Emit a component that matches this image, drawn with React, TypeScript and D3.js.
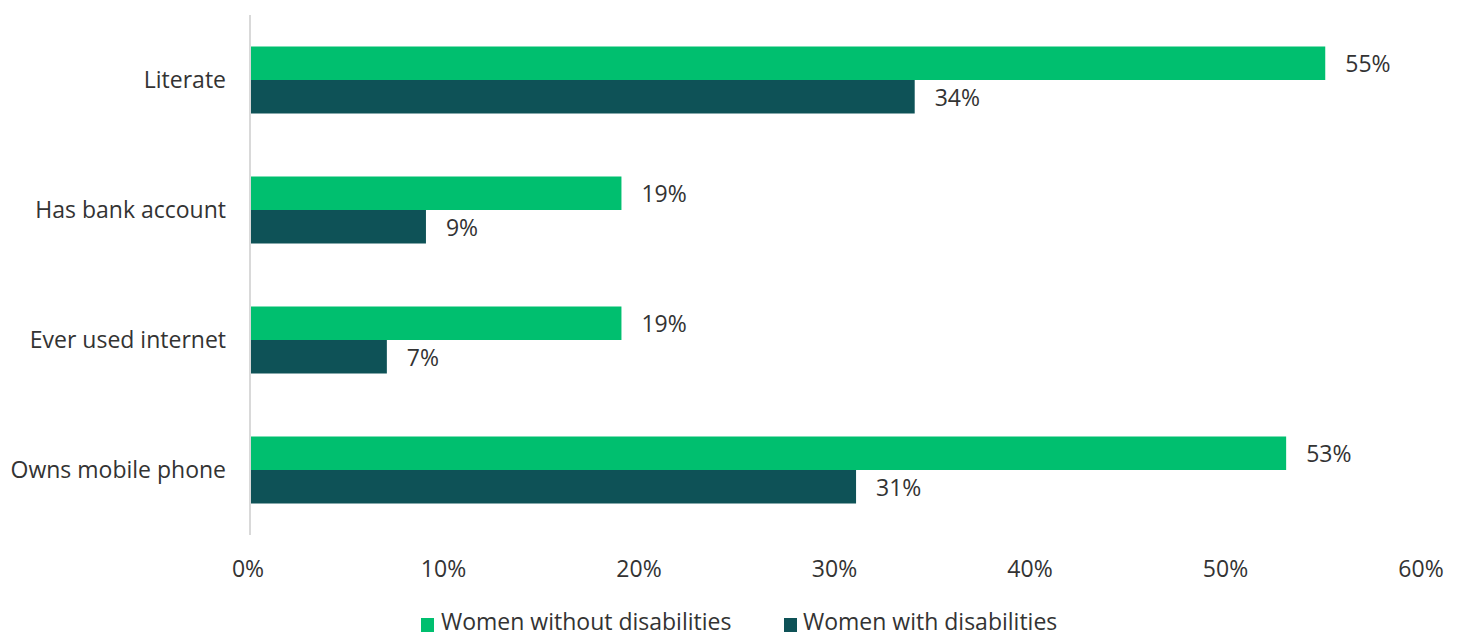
import React from "react";
import * as d3 from "d3";

const categories = ["Literate", "Has bank account", "Ever used internet", "Owns mobile phone"];
const withoutDisabilities = [55, 19, 19, 53];
const withDisabilities = [34, 9, 7, 31];
const seriesNames = ["Women without disabilities", "Women with disabilities"];
const seriesColors = ["#00BF6F", "#0E5257"];
const xTicks = [0, 10, 20, 30, 40, 50, 60];

const W = 1464;
const H = 639;
const FONT = "'Open Sans', sans-serif";
const TXT = "#333333";
const FS = 23;

export default function App() {
  const x = d3.scaleLinear().domain([0, 60]).range([250, 1423]);
  const y = d3.scaleBand<string>().domain(categories).range([15, 535]).paddingInner(0).paddingOuter(0);
  const barH = 33.5;
  const series = [withoutDisabilities, withDisabilities];

  return (
    <svg width={W} height={H} style={{ position: "absolute", left: 0, top: 0, background: "#fff" }} fontFamily={FONT}>
      {categories.map((c, i) => {
        const cy = (y(c) as number) + y.bandwidth() / 2;
        return (
          <g key={c}>
            {series.map((s, k) => {
              const y0 = cy - barH + k * barH;
              return (
                <g key={k}>
                  <rect x={x(0)} y={y0} width={x(s[i]) - x(0)} height={barH} fill={seriesColors[k]} />
                  <text x={x(s[i]) + 20} y={y0 + barH / 2 + 3} dominantBaseline="middle" fontSize={FS} fill={TXT}>
                    {s[i]}%
                  </text>
                </g>
              );
            })}
            <text x={226} y={cy + 2} textAnchor="end" dominantBaseline="middle" fontSize={FS} fill={TXT}>
              {c}
            </text>
          </g>
        );
      })}
      <line x1={x(0)} x2={x(0)} y1={15} y2={535} stroke="#d9d9d9" strokeWidth={2} />
      {xTicks.map((t) => (
        <text key={t} x={x(t) - 2} y={571} textAnchor="middle" dominantBaseline="middle" fontSize={FS} fill={TXT}>
          {t}%
        </text>
      ))}
      <g>
        <rect x={421} y={618} width={13} height={14} fill={seriesColors[0]} />
        <text x={441} y={624} dominantBaseline="middle" fontSize={FS} fill={TXT}>{seriesNames[0]}</text>
        <rect x={784} y={618} width={13} height={14} fill={seriesColors[1]} />
        <text x={803} y={624} dominantBaseline="middle" fontSize={FS} fill={TXT}>{seriesNames[1]}</text>
      </g>
    </svg>
  );
}
